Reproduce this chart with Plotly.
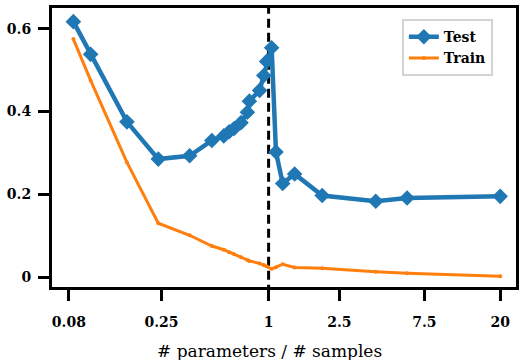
import plotly.graph_objects as go

# Ratio of model parameters to training samples
ratio = [0.08, 0.1, 0.16, 0.24, 0.36, 0.48, 0.56, 0.6, 0.64, 0.7, 0.76, 0.78,
         0.89, 0.94, 0.975, 1.04, 1.1, 1.2, 1.4, 2.0, 4.0, 6.0, 20.0]

# Test error per ratio
test_err = [0.617, 0.538, 0.375, 0.285, 0.293, 0.330, 0.341, 0.351, 0.359, 0.373,
            0.398, 0.425, 0.451, 0.487, 0.521, 0.554, 0.302, 0.226, 0.249, 0.197,
            0.183, 0.191, 0.195]

# Train error per ratio
train_err = [0.575, 0.475, 0.277, 0.130, 0.101, 0.075, 0.066, 0.060, 0.055, 0.048,
             0.041, 0.039, 0.033, 0.029, 0.026, 0.020, 0.024, 0.031, 0.023, 0.021,
             0.013, 0.009, 0.002]

x_tick_vals = [0.0755, 0.25, 1, 2.5, 7.5, 20]
x_tick_text = ["0.08", "0.25", "1", "2.5", "7.5", "20"]
y_tick_vals = [0, 0.2, 0.4, 0.6]
y_tick_text = ["0", "0.2", "0.4", "0.6"]

interpolation_threshold = 1.0
y_range = [-0.024, 0.650]

BLUE = "#1f77b4"
ORANGE = "#ff7f0e"
FONT = "DejaVu Serif"

fig = go.Figure()

# Interpolation threshold marker
fig.add_trace(go.Scatter(
    x=[interpolation_threshold, interpolation_threshold],
    y=[y_range[0] - 0.05, y_range[1] + 0.05],
    mode="lines",
    line=dict(color="black", width=3, dash="9px,5px"),
    showlegend=False,
    hoverinfo="skip",
))

fig.add_trace(go.Scatter(
    x=ratio, y=test_err, name="Test",
    mode="lines+markers",
    line=dict(color=BLUE, width=4.5),
    marker=dict(symbol="diamond", size=12, color=BLUE),
))

fig.add_trace(go.Scatter(
    x=ratio, y=train_err, name="Train",
    mode="lines+markers",
    line=dict(color=ORANGE, width=3),
    marker=dict(symbol="circle", size=4, color=ORANGE),
))

axis_common = dict(
    showline=True, linecolor="black", linewidth=3, mirror=True,
    ticks="outside", ticklen=11, tickwidth=3, tickcolor="black",
    showgrid=False, zeroline=False,
    tickfont=dict(family=FONT, size=14, color="black", weight="bold"),
)

fig.update_xaxes(
    type="log",
    range=[-1.217, 1.390],
    tickvals=x_tick_vals, ticktext=x_tick_text,
    ticklabelstandoff=9,
    **axis_common,
)
fig.update_yaxes(
    range=y_range,
    tickvals=y_tick_vals, ticktext=y_tick_text,
    ticklabelstandoff=4,
    **axis_common,
)

fig.add_annotation(
    text="# parameters / # samples",
    xref="paper", yref="paper", x=0.468, y=-0.23,
    xanchor="center", yanchor="middle", showarrow=False,
    font=dict(family=FONT, size=17, color="black"),
)

fig.update_layout(
    width=524, height=360,
    margin=dict(l=52, r=5, t=6, b=73),
    paper_bgcolor="white", plot_bgcolor="white",
    legend=dict(
        x=0.754, y=0.96, xanchor="left", yanchor="top",
        bordercolor="#d4d4d4", borderwidth=2, bgcolor="white",
        font=dict(family=FONT, size=14, color="black", weight="bold"),
        itemwidth=30, tracegroupgap=0,
    ),
)

fig.write_html("out.html")
